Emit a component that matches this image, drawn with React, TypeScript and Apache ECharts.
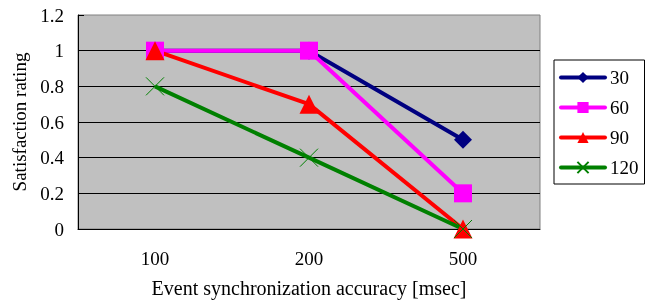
import React, { useEffect, useRef } from "react";
import * as echarts from "echarts";

const categories = ["100", "200", "500"];
const s30 = [1, 1, 0.5];
const s60 = [1, 1, 0.2];
const s90 = [1, 0.7, 0];
const s120 = [0.8, 0.4, 0];
const seriesNames = ["30", "60", "90", "120"];

const FONT = "Liberation Serif";

export default function App() {
  const ref = useRef<HTMLDivElement>(null);
  useEffect(() => {
    if (!ref.current) return;
    const chart = echarts.init(ref.current, undefined, { renderer: "svg" });
    const crossPath = "path://M0,0L10,10M10,0L0,10";
    chart.setOption({
      animation: false,
      textStyle: { fontFamily: FONT, color: "#000" },
      grid: {
        left: 78,
        right: 108,
        top: 15,
        bottom: 71,
        show: true,
        outerBoundsMode: "none",
        containLabel: false,
        backgroundColor: "#C0C0C0",
        borderColor: "#808080",
        borderWidth: 1,
      },
      legend: {
        orient: "vertical",
        left: 554,
        top: 60,
        width: 80,
        padding: [8, 6, 7, 5],
        itemGap: 11,
        itemWidth: 44,
        itemHeight: 14,
        borderColor: "#000",
        borderWidth: 1,
        backgroundColor: "#fff",
        lineStyle: { width: 4, cap: "round" },
        textStyle: { fontFamily: FONT, fontSize: 19, color: "#000" },
        data: seriesNames,
      },
      xAxis: {
        type: "category",
        data: categories,
        boundaryGap: true,
        name: "Event synchronization accuracy [msec]",
        nameLocation: "middle",
        nameGap: 49,
        nameTextStyle: { fontFamily: FONT, fontSize: 20, color: "#000" },
        axisLine: { lineStyle: { color: "#000", width: 1 } },
        axisTick: { inside: true, length: 5, lineStyle: { color: "#000" } },
        axisLabel: { fontFamily: FONT, fontSize: 19, color: "#000", margin: 20 },
        splitLine: { show: false },
      },
      yAxis: {
        type: "value",
        min: 0,
        max: 1.2,
        interval: 0.2,
        name: "Satisfaction rating",
        nameLocation: "middle",
        nameGap: 48,
        nameTextStyle: { fontFamily: FONT, fontSize: 19, color: "#000" },
        axisLine: { show: true, lineStyle: { color: "#000", width: 1 } },
        axisTick: { show: true, inside: true, length: 6, lineStyle: { color: "#000" } },
        axisLabel: {
          fontFamily: FONT,
          fontSize: 19,
          color: "#000",
          margin: 14,
          formatter: (v: number) => String(Math.round(v * 10) / 10),
        },
        splitLine: { show: true, showMaxLine: false, lineStyle: { color: "#000", width: 1 } },
      },
      series: [
        {
          name: "30",
          type: "line",
          data: s30,
          symbol: "diamond",
          symbolSize: 18,
          lineStyle: { color: "#000080", width: 4 },
          itemStyle: { color: "#000080" },
        },
        {
          name: "60",
          type: "line",
          data: s60,
          symbol: "rect",
          symbolSize: 18,
          lineStyle: { color: "#FF00FF", width: 4 },
          itemStyle: { color: "#FF00FF" },
        },
        {
          name: "90",
          type: "line",
          data: s90,
          symbol: "triangle",
          symbolSize: 19,
          lineStyle: { color: "#FF0000", width: 4 },
          itemStyle: { color: "#FF0000" },
        },
        {
          name: "120",
          type: "line",
          data: s120,
          symbol: crossPath,
          symbolSize: 18,
          lineStyle: { color: "#008000", width: 4 },
          itemStyle: { color: "#008000", borderColor: "#008000", borderWidth: 1 },
        },
      ],
    });
    return () => chart.dispose();
  }, []);
  return (
    <div
      ref={ref}
      style={{ position: "fixed", left: 0, top: 0, width: 648, height: 300 }}
    />
  );
}
